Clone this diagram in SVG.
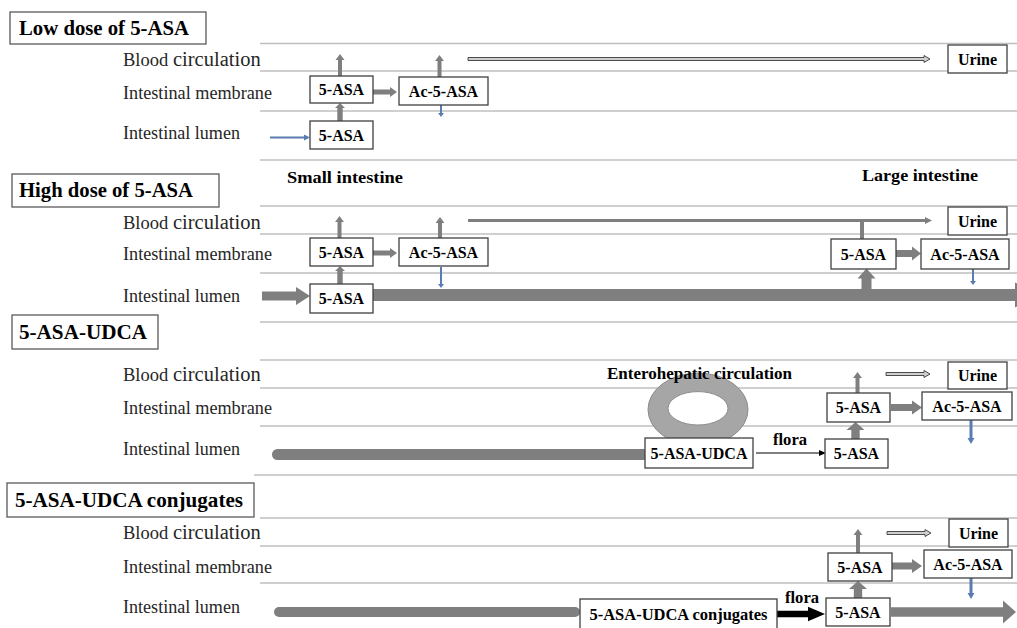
<svg xmlns="http://www.w3.org/2000/svg" width="1017" height="628" viewBox="0 0 1017 628">
<style>
.lane{stroke:#bfbfbf;stroke-width:1.5}
.box{fill:#fff;stroke:#404040;stroke-width:1.3}
.tbox{fill:#fff;stroke:#595959;stroke-width:1.3}
.bt{font-family:"Liberation Serif","Times New Roman",serif;font-weight:bold;font-size:16px;fill:#000;text-anchor:middle}
.tt{font-family:"Liberation Serif","Times New Roman",serif;font-weight:bold;font-size:21px;fill:#000}
.lbl{font-family:"Liberation Serif","Times New Roman",serif;font-size:18px;fill:#262626}
.hd{font-family:"Liberation Serif","Times New Roman",serif;font-weight:bold;font-size:17px;fill:#000}
.g{fill:#7f7f7f}
.bl{fill:#5b7bb3}
.dbl{fill:#cfcfcf;stroke:#3a3a3a;stroke-width:0.9}
</style>
<rect width="1017" height="628" fill="#fff"/>
<g id="lanes">
<line class="lane" x1="260" y1="43.5" x2="1017" y2="43.5"/>
<line class="lane" x1="260" y1="71" x2="1017" y2="71"/>
<line class="lane" x1="260" y1="111" x2="1017" y2="111"/>
<line class="lane" x1="260" y1="160" x2="1017" y2="160"/>
<line class="lane" x1="260" y1="206" x2="1017" y2="206"/>
<line class="lane" x1="260" y1="234" x2="1017" y2="234"/>
<line class="lane" x1="260" y1="273" x2="1017" y2="273"/>
<line class="lane" x1="260" y1="322" x2="1017" y2="322"/>
<line class="lane" x1="260" y1="360" x2="1017" y2="360"/>
<line class="lane" x1="260" y1="388" x2="1017" y2="388"/>
<line class="lane" x1="260" y1="426" x2="1017" y2="426"/>
<line class="lane" x1="254" y1="475" x2="1017" y2="475"/>
<line class="lane" x1="260" y1="518" x2="1017" y2="518"/>
<line class="lane" x1="260" y1="546" x2="1017" y2="546"/>
<line class="lane" x1="260" y1="583" x2="1017" y2="583"/>
</g>
<g id="labels">
<text class="lbl" x="123" y="65.5"><tspan font-size="18.5">Blood</tspan><tspan x="173" font-size="20.5">circulation</tspan></text>
<text class="lbl" x="123" y="98.5" textLength="149" lengthAdjust="spacingAndGlyphs">Intestinal membrane</text>
<text class="lbl" x="123" y="138.5" textLength="117" lengthAdjust="spacingAndGlyphs">Intestinal lumen</text>
<text class="lbl" x="123" y="228.5"><tspan font-size="18.5">Blood</tspan><tspan x="173" font-size="20.5">circulation</tspan></text>
<text class="lbl" x="123" y="260" textLength="149" lengthAdjust="spacingAndGlyphs">Intestinal membrane</text>
<text class="lbl" x="123" y="301.5" textLength="117" lengthAdjust="spacingAndGlyphs">Intestinal lumen</text>
<text class="lbl" x="123" y="381"><tspan font-size="18.5">Blood</tspan><tspan x="173" font-size="20.5">circulation</tspan></text>
<text class="lbl" x="123" y="414" textLength="149" lengthAdjust="spacingAndGlyphs">Intestinal membrane</text>
<text class="lbl" x="123" y="455" textLength="117" lengthAdjust="spacingAndGlyphs">Intestinal lumen</text>
<text class="lbl" x="123" y="538.5"><tspan font-size="18.5">Blood</tspan><tspan x="173" font-size="20.5">circulation</tspan></text>
<text class="lbl" x="123" y="572.5" textLength="149" lengthAdjust="spacingAndGlyphs">Intestinal membrane</text>
<text class="lbl" x="123" y="612.5" textLength="117" lengthAdjust="spacingAndGlyphs">Intestinal lumen</text>
<text class="hd" x="287" y="183" textLength="116" lengthAdjust="spacingAndGlyphs">Small intestine</text>
<text class="hd" x="862" y="181" textLength="116" lengthAdjust="spacingAndGlyphs">Large intestine</text>
</g>
<g id="connectors">
<path class="g" d="M338,76 L338,60 L335.5,60 L340,54 L344.5,60 L342,60 L342,76 Z"/>
<path class="g" d="M437.5,77 L437.5,61 L435,61 L439.5,55 L444,61 L441.5,61 L441.5,77 Z"/>
<path class="g" d="M373,89.5 L390,89.5 L390,87 L397,92 L390,97 L390,94.5 L373,94.5 Z"/>
<path class="g" d="M337.3,121 L337.3,108 L335,108 L340,103 L345,108 L342.7,108 L342.7,121 Z"/>
<path class="bl" d="M440,105 L440,113 L438,113 L441,117 L444,113 L442,113 L442,105 Z"/>
<line x1="270" y1="137.5" x2="305" y2="137.5" stroke="#5b7bb3" stroke-width="2"/>
<path class="bl" d="M304,134.5 L310,137.5 L304,140.5 Z"/>
<path class="dbl" d="M468,57.5 L924,57.5 L924,55.5 L930,59 L924,62.5 L924,60.5 L468,60.5 Z"/>
<path class="g" d="M337.5,238 L337.5,222 L335,222 L339.5,216 L344,222 L341.5,222 L341.5,238 Z"/>
<path class="g" d="M438,238 L438,223 L435.5,223 L440,217 L444.5,223 L442,223 L442,238 Z"/>
<path class="g" d="M373,250.5 L390,250.5 L390,248 L397,253 L390,258 L390,255.5 L373,255.5 Z"/>
<path class="g" d="M337.3,284 L337.3,271 L335,271 L340,266 L345,271 L342.7,271 L342.7,284 Z"/>
<path class="bl" d="M440,267 L440,284 L438,284 L441,288 L444,284 L442,284 L442,267 Z"/>
<path class="g" d="M262,291.5 L296,291.5 L296,287 L310,296 L296,305 L296,300.5 L262,300.5 Z"/>
<path class="g" d="M373,289 L1015,289 L1015,282.5 L1040,295 L1015,307.5 L1015,301 L373,301 Z"/>
<line x1="468" y1="220.5" x2="926" y2="220.5" stroke="#7f7f7f" stroke-width="3"/>
<path class="g" d="M925,217 L932,220.5 L925,224 Z"/>
<rect class="g" x="860" y="220" width="4" height="19"/>
<path class="g" d="M861.5,290 L861.5,278.5 L857.5,278.5 L866.5,268.5 L875.5,278.5 L871.5,278.5 L871.5,290 Z"/>
<path class="g" d="M896,250 L912,250 L912,246.5 L921,253.5 L912,260.5 L912,257 L896,257 Z"/>
<path class="bl" d="M972,269 L972,281 L970,281 L973,285 L976,281 L974,281 L974,269 Z"/>
<rect class="g" x="272" y="449" width="378" height="11" rx="5.5"/>
<path d="M648,409.5 A50,36.5 0 1,0 748,409.5 A50,36.5 0 1,0 648,409.5 Z M668,408.3 A30,16.7 0 1,1 728,408.3 A30,16.7 0 1,1 668,408.3 Z" fill="#a6a6a6" fill-rule="evenodd" stroke="#8c8c8c" stroke-width="1"/>
<line x1="756" y1="453" x2="820" y2="453" stroke="#000" stroke-width="1.2"/>
<path d="M819,450 L826,453 L819,456 Z" fill="#000"/>
<path class="g" d="M851.3,439 L851.3,430 L846.5,430 L855.5,422 L864.5,430 L859.7,430 L859.7,439 Z"/>
<path class="g" d="M855.5,393 L855.5,378 L853,378 L857.5,372 L862,378 L859.5,378 L859.5,393 Z"/>
<path class="dbl" d="M886,372.5 L924,372.5 L924,370.5 L930,374 L924,377.5 L924,375.5 L886,375.5 Z"/>
<path class="g" d="M891,404 L912,404 L912,400.5 L922,407.5 L912,414.5 L912,411 L891,411 Z"/>
<path class="bl" d="M969.5,420 L969.5,438 L967.5,438 L971,444 L974.5,438 L972.5,438 L972.5,420 Z"/>
<rect class="g" x="274" y="607" width="306" height="10" rx="5"/>
<path d="M777,610.8 L808,610.8 L808,606.7 L825,614 L808,621.3 L808,617.2 L777,617.2 Z" fill="#000"/>
<path class="g" d="M853.8,598 L853.8,589 L849,589 L858,581 L867,589 L862.2,589 L862.2,598 Z"/>
<path class="g" d="M856,553 L856,535 L853.5,535 L858,529 L862.5,535 L860,535 L860,553 Z"/>
<path class="dbl" d="M887,531.5 L925,531.5 L925,529.5 L931,533 L925,536.5 L925,534.5 L887,534.5 Z"/>
<path class="g" d="M892,562.5 L912,562.5 L912,559 L922,566 L912,573 L912,569.5 L892,569.5 Z"/>
<path class="bl" d="M969.5,578 L969.5,593 L967.5,593 L971,599 L974.5,593 L972.5,593 L972.5,578 Z"/>
<path class="g" d="M891,607.3 L1003,607.3 L1003,600.5 L1016,612 L1003,623.5 L1003,616.7 L891,616.7 Z"/>
</g>
<text class="hd" x="607" y="378.5" textLength="185" lengthAdjust="spacingAndGlyphs" font-size="16">Enterohepatic circulation</text>
<text class="hd" x="773" y="444.5" font-size="16" textLength="34" lengthAdjust="spacingAndGlyphs">flora</text>
<text class="hd" x="785" y="603" font-size="16" textLength="34" lengthAdjust="spacingAndGlyphs">flora</text>
<g id="title-low"><rect class="tbox" x="10" y="12" width="196" height="32"/><text class="tt" x="19" y="35" textLength="170" lengthAdjust="spacingAndGlyphs">Low dose of 5-ASA</text></g>
<g id="title-high"><rect class="tbox" x="12" y="174" width="207" height="33"/><text class="tt" x="19" y="197" textLength="174" lengthAdjust="spacingAndGlyphs">High dose of 5-ASA</text></g>
<g id="title-udca"><rect class="tbox" x="12" y="315" width="146" height="34"/><text class="tt" x="19" y="338.5" textLength="128" lengthAdjust="spacingAndGlyphs">5-ASA-UDCA</text></g>
<g id="title-conj"><rect class="tbox" x="7" y="483" width="247" height="34"/><text class="tt" x="15" y="506.5" textLength="228" lengthAdjust="spacingAndGlyphs">5-ASA-UDCA conjugates</text></g>
<g id="low-asa-mem"><rect class="box" x="310" y="76" width="63" height="27"/><text class="bt" x="341.5" y="95">5-ASA</text></g>
<g id="low-ac-mem"><rect class="box" x="399" y="77" width="89" height="28"/><text class="bt" x="443.5" y="96.5">Ac-5-ASA</text></g>
<g id="low-asa-lum"><rect class="box" x="310" y="121" width="63" height="28"/><text class="bt" x="341.5" y="140.5">5-ASA</text></g>
<g id="low-urine"><rect class="box" x="948" y="45" width="59" height="28"/><text class="bt" x="977.5" y="64.5">Urine</text></g>
<g id="high-asa-mem"><rect class="box" x="310" y="238" width="63" height="28"/><text class="bt" x="341.5" y="257.5">5-ASA</text></g>
<g id="high-ac-mem"><rect class="box" x="399" y="238" width="89" height="28"/><text class="bt" x="443.5" y="257.5">Ac-5-ASA</text></g>
<g id="high-asa-lum"><rect class="box" x="310" y="284" width="63" height="29"/><text class="bt" x="341.5" y="304">5-ASA</text></g>
<g id="high-asa-large"><rect class="box" x="831" y="239" width="65" height="30"/><text class="bt" x="863.5" y="259.5">5-ASA</text></g>
<g id="high-ac-large"><rect class="box" x="921" y="239" width="88" height="30"/><text class="bt" x="965" y="259.5">Ac-5-ASA</text></g>
<g id="high-urine"><rect class="box" x="948" y="207" width="59" height="28"/><text class="bt" x="977.5" y="226.5">Urine</text></g>
<g id="udca-box"><rect class="box" x="645" y="438" width="108" height="30"/><text class="bt" x="699" y="458.5">5-ASA-UDCA</text></g>
<g id="udca-asa-lum"><rect class="box" x="825" y="439" width="63" height="29"/><text class="bt" x="856.5" y="459">5-ASA</text></g>
<g id="udca-asa-mem"><rect class="box" x="827" y="393" width="63" height="29"/><text class="bt" x="858.5" y="413">5-ASA</text></g>
<g id="udca-ac-mem"><rect class="box" x="922" y="392" width="90" height="28"/><text class="bt" x="967" y="411.5">Ac-5-ASA</text></g>
<g id="udca-urine"><rect class="box" x="948" y="362" width="59" height="27"/><text class="bt" x="977.5" y="381">Urine</text></g>
<g id="conj-box"><rect class="box" x="580" y="599" width="197" height="32"/><text class="bt" x="678.5" y="620" textLength="178" lengthAdjust="spacingAndGlyphs">5-ASA-UDCA conjugates</text></g>
<g id="conj-asa-lum"><rect class="box" x="826" y="598" width="64" height="28"/><text class="bt" x="858" y="617.5">5-ASA</text></g>
<g id="conj-asa-mem"><rect class="box" x="828" y="553" width="64" height="28"/><text class="bt" x="860" y="572.5">5-ASA</text></g>
<g id="conj-ac-mem"><rect class="box" x="924" y="550" width="88" height="28"/><text class="bt" x="968" y="569.5">Ac-5-ASA</text></g>
<g id="conj-urine"><rect class="box" x="949" y="519" width="59" height="28"/><text class="bt" x="978.5" y="538.5">Urine</text></g>
</svg>
